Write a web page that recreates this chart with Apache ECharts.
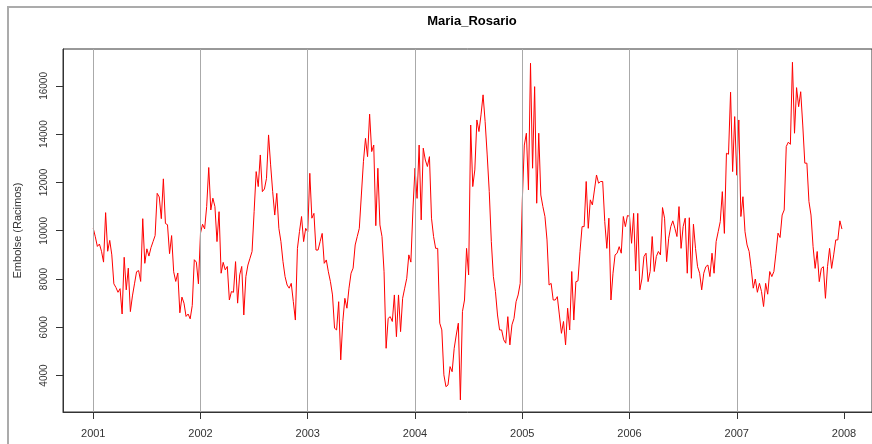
<!DOCTYPE html>
<html>
<head>
<meta charset="utf-8">
<script src="https://cdn.jsdelivr.net/npm/echarts@6/dist/echarts.min.js"></script>
<style>
  html, body { margin: 0; padding: 0; background: #ffffff; }
  #chart { width: 872px; height: 444px; }
</style>
</head>
<body>
<div id="chart"></div>
<script>
// Weekly bunch counts (52 weeks per year), Maria_Rosario farm
const w2001 = [10100, 9750, 9350, 9450, 9150, 8700, 10750, 9150, 9600, 9000, 7800, 7650, 7450, 7600, 6550, 8900, 7550, 8450, 6650, 7300, 7800, 8300, 8350, 7900, 10500, 8650, 9250, 8950, 9300, 9550, 9800, 11550, 11400, 10500, 12150, 10300, 10250, 9050, 9800, 8300, 7900, 8250, 6600, 7250, 7000, 6450, 6550, 6350, 6900, 8800, 8700, 7800];
const w2002 = [9900, 10270, 10075, 11000, 12620, 10860, 11350, 11000, 9550, 10790, 8240, 8690, 8380, 8520, 7130, 7480, 7450, 8720, 7000, 8170, 8520, 6510, 8100, 8580, 8860, 9140, 10790, 12450, 11830, 13140, 11620, 11730, 12170, 13970, 12730, 11620, 10650, 11550, 10100, 9550, 8720, 8100, 7750, 7620, 7820, 7070, 6300, 9270, 9970, 10590, 9550, 10100];
const w2003 = [9950, 12380, 10520, 10720, 9200, 9200, 9550, 9890, 8650, 8790, 8300, 7890, 7340, 5960, 5890, 7060, 4650, 6240, 7200, 6790, 7620, 8240, 8450, 9410, 9760, 10100, 11480, 12860, 13830, 13070, 14830, 13280, 13550, 10210, 12590, 10240, 9760, 8300, 5130, 6370, 6440, 6240, 7340, 5610, 7340, 5820, 7200, 7620, 8030, 9000, 8700, 10900];
const w2004 = [12590, 11340, 13550, 10450, 13420, 12930, 12660, 13070, 10520, 9760, 9270, 9270, 6170, 5890, 4030, 3540, 3610, 4370, 4160, 5130, 5680, 6170, 2990, 6650, 7130, 9270, 8170, 14380, 11830, 12520, 14590, 14110, 14800, 15630, 14520, 13140, 11620, 9550, 8100, 7480, 6510, 5890, 5890, 5480, 5340, 6440, 5270, 6100, 6370, 7060, 7340, 7820];
const w2005 = [11200, 13550, 14040, 11690, 16940, 12590, 15970, 11140, 14040, 11480, 11000, 10590, 9620, 7750, 7820, 7130, 7130, 7270, 6510, 5750, 6240, 5270, 6790, 5890, 8310, 6300, 7890, 7920, 9140, 10170, 10170, 12040, 10100, 11280, 11070, 11690, 12310, 11970, 12040, 12040, 10380, 9270, 10520, 7130, 8240, 9000, 9070, 9340, 9070, 10590, 10170, 10630];
const w2006 = [10600, 9480, 10720, 8330, 10720, 7550, 8000, 8930, 9070, 7890, 8310, 9760, 8310, 8930, 9140, 9000, 10960, 10520, 8720, 9690, 10170, 10410, 10100, 9760, 11000, 9270, 10170, 10520, 8240, 10540, 8030, 10270, 9270, 8510, 8240, 7550, 8240, 8510, 8580, 8100, 9070, 8240, 9550, 9960, 10380, 11620, 9890, 13210, 13170, 15740, 12450, 14730];
const w2007 = [12300, 14590, 10590, 11410, 9960, 9410, 9140, 8440, 7620, 8000, 7450, 7820, 7480, 6860, 7820, 7370, 8310, 8100, 8310, 9070, 9900, 9720, 10650, 10860, 13490, 13670, 13580, 16980, 14040, 15930, 15140, 15760, 14380, 12800, 12800, 11210, 10650, 9340, 8440, 9140, 7890, 8440, 8510, 7200, 8510, 9270, 8440, 9000, 9620, 9620, 10410, 10070];

const years = [2001, 2002, 2003, 2004, 2005, 2006, 2007];
const yearlyWeeks = [w2001, w2002, w2003, w2004, w2005, w2006, w2007];

// Axis ticks
const xTicks = [2001, 2002, 2003, 2004, 2005, 2006, 2007, 2008];
const yTicks = [4000, 6000, 8000, 10000, 12000, 14000, 16000];
const yearLines = [2001, 2002, 2003, 2004, 2005, 2006, 2007];

const chartTitle = 'Maria_Rosario';
const yName = 'Embolse (Racimos)';

// Build [time, value] pairs: time = year + week/52
const seriesData = [];
years.forEach((yr, i) => {
  yearlyWeeks[i].forEach((v, w) => {
    seriesData.push([yr + w / 52, v]);
  });
});

const FONT = '"Liberation Sans", Arial, sans-serif';
const chart = echarts.init(document.getElementById('chart'), null, { renderer: 'canvas' });

chart.setOption({
  animation: false,
  backgroundColor: '#ffffff',
  title: {
    text: chartTitle,
    left: 467,
    top: 10,
    textAlign: 'center',
    textStyle: { fontFamily: FONT, fontSize: 13, fontWeight: 'bold', color: '#000' }
  },
  graphic: [
    {
      type: 'rect',
      shape: { x: 8, y: 7, width: 900, height: 500 },
      style: { fill: 'none', stroke: '#ababab', lineWidth: 2 },
      silent: true
    }
  ],
  grid: {
    left: 63,
    top: 49,
    width: 810,
    height: 363,
    show: true,
    borderColor: '#333',
    borderWidth: 1,
    backgroundColor: 'transparent'
  },
  xAxis: {
    type: 'value',
    min: 2000.718,
    max: 2008.261,
    axisLine: { show: true, onZero: false, lineStyle: { color: '#333', width: 1 } },
    axisTick: { show: true, length: 7, inside: false, customValues: xTicks, lineStyle: { color: '#333' } },
    axisLabel: {
      show: true,
      customValues: xTicks,
      margin: 16,
      fontFamily: FONT,
      fontSize: 11,
      color: '#333',
      formatter: v => String(Math.round(v))
    },
    splitLine: { show: false }
  },
  yAxis: {
    type: 'value',
    min: 2490,
    max: 17530,
    name: yName,
    nameLocation: 'middle',
    nameRotate: 90,
    nameGap: 40,
    nameTextStyle: { fontFamily: FONT, fontSize: 11, color: '#333' },
    axisLine: { show: true, onZero: false, lineStyle: { color: '#333', width: 1 } },
    axisTick: { show: true, length: 7, customValues: yTicks, lineStyle: { color: '#333' } },
    axisLabel: {
      show: true,
      customValues: yTicks,
      rotate: 90,
      margin: 14,
      fontFamily: FONT,
      fontSize: 10,
      color: '#333',
      formatter: v => String(Math.round(v))
    },
    splitLine: { show: false }
  },
  series: [
    {
      type: 'line',
      data: seriesData,
      showSymbol: false,
      symbol: 'none',
      lineStyle: { color: '#ff0000', width: 1 },
      z: 3,
      markLine: {
        silent: true,
        symbol: ['none', 'none'],
        label: { show: false },
        lineStyle: { color: '#aaaaaa', width: 1, type: 'solid' },
        emphasis: { disabled: true },
        data: yearLines.map(y => ({ xAxis: y }))
      }
    }
  ]
});
</script>
</body>
</html>
